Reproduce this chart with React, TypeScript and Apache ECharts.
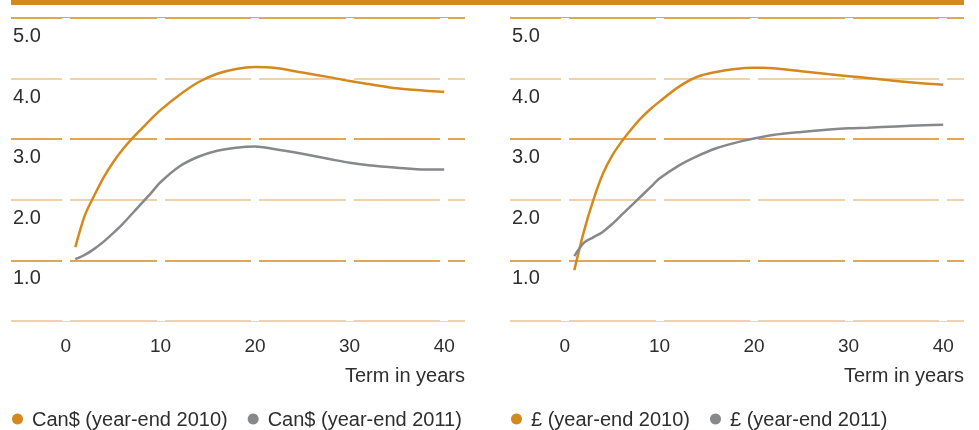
import React, { useEffect, useRef } from "react";
import * as echarts from "echarts";

const terms = [1, 2, 3, 4, 5, 6, 7, 8, 9, 10, 12, 14, 16, 18, 20, 22, 25, 28, 30, 32, 35, 38, 40];
const cad2010 = [1.22, 1.74, 2.07, 2.37, 2.62, 2.83, 3.01, 3.17, 3.33, 3.48, 3.73, 3.94, 4.08, 4.16, 4.19, 4.18, 4.10, 4.02, 3.96, 3.91, 3.84, 3.80, 3.78];
const cad2011 = [1.02, 1.09, 1.19, 1.31, 1.45, 1.60, 1.77, 1.94, 2.11, 2.29, 2.55, 2.71, 2.81, 2.86, 2.88, 2.84, 2.76, 2.67, 2.61, 2.57, 2.53, 2.50, 2.50];
const gbp2010 = [0.84, 1.47, 1.99, 2.42, 2.73, 2.96, 3.16, 3.34, 3.49, 3.62, 3.86, 4.03, 4.11, 4.16, 4.18, 4.17, 4.12, 4.07, 4.04, 4.01, 3.96, 3.92, 3.90];
const gbp2011 = [1.07, 1.29, 1.38, 1.47, 1.60, 1.75, 1.90, 2.05, 2.20, 2.35, 2.56, 2.72, 2.85, 2.94, 3.01, 3.07, 3.12, 3.16, 3.18, 3.19, 3.21, 3.23, 3.24];

const xTicks = [0, 10, 20, 30, 40];
const seriesNames = [
  "Can$ (year-end 2010)",
  "Can$ (year-end 2011)",
  "£ (year-end 2010)",
  "£ (year-end 2011)",
];
const xAxisTitle = "Term in years";

const ORANGE = "#D4891C";
const LIGHT = "#EBC28C";
const GRAY = "#87888B";
const TEXT = "#2E2E2E";
const FONT = "Liberation Sans";

const pairs = (vals: number[]) => terms.map((t, i) => [t, vals[i]]);

export default function App() {
  const ref = useRef<HTMLDivElement>(null);
  useEffect(() => {
    if (!ref.current) return;
    const chart = echarts.init(ref.current, null, { renderer: "svg" });
    const panelLefts = [11, 510];
    const panelWidth = 454;
    const grids = panelLefts.map((l) => ({ left: l, width: panelWidth, top: 18, height: 303 }));
    const xAxes = panelLefts.map((_, i) => ({
      type: "value",
      gridIndex: i,
      min: -5.8,
      max: 42.2,
      axisLine: { show: false },
      axisTick: { show: false },
      splitLine: { show: false },
      axisLabel: {
        customValues: xTicks,
        color: TEXT,
        fontSize: 19,
        fontFamily: FONT,
        margin: 15,
      },
    }));
    const yAxes = panelLefts.map((_, i) => ({
      type: "value",
      gridIndex: i,
      min: 0,
      max: 5,
      interval: 1,
      axisLine: { show: false },
      axisTick: { show: false },
      splitLine: { show: true, lineStyle: { color: [LIGHT, ORANGE], width: 1.5 } },
      axisLabel: {
        inside: true,
        showMinLabel: false,
        margin: 2,
        verticalAlign: "top",
        padding: [7, 0, 0, 0],
        color: TEXT,
        fontSize: 20,
        fontFamily: FONT,
        formatter: (v: number) => v.toFixed(1),
      },
    }));
    const gapSeries = panelLefts.map((_, i) => ({
      type: "line",
      name: "gap" + i,
      xAxisIndex: i,
      yAxisIndex: i,
      data: [],
      z: 1,
      silent: true,
      markLine: {
        z: 1,
        silent: true,
        symbol: "none",
        label: { show: false },
        lineStyle: { color: "#ffffff", width: 8, type: "solid" },
        data: xTicks.map((x) => ({ xAxis: x })),
      },
    }));
    const lineSeries = [
      { name: seriesNames[0], data: pairs(cad2010), color: ORANGE, idx: 0 },
      { name: seriesNames[1], data: pairs(cad2011), color: GRAY, idx: 0 },
      { name: seriesNames[2], data: pairs(gbp2010), color: ORANGE, idx: 1 },
      { name: seriesNames[3], data: pairs(gbp2011), color: GRAY, idx: 1 },
    ].map((s) => ({
      type: "line",
      name: s.name,
      xAxisIndex: s.idx,
      yAxisIndex: s.idx,
      data: s.data,
      showSymbol: false,
      smooth: 0.3,
      z: 10,
      itemStyle: { color: s.color },
      lineStyle: { color: s.color, width: 2.5 },
    }));
    const legends = panelLefts.map((l, i) => ({
      left: l + 1,
      top: 408,
      padding: 0,
      icon: "circle",
      itemWidth: 19,
      itemHeight: 11,
      itemGap: 20,
      data: [seriesNames[i * 2], seriesNames[i * 2 + 1]],
      textStyle: { color: TEXT, fontSize: 20, fontFamily: FONT, lineHeight: 22 },
    }));
    chart.setOption({
      animation: false,
      grid: grids,
      xAxis: xAxes,
      yAxis: yAxes,
      legend: legends,
      series: [...gapSeries, ...lineSeries],
      graphic: [
        { type: "rect", shape: { x: 11, y: 0, width: 953, height: 5 }, style: { fill: ORANGE } },
        ...panelLefts.map((l) => ({
          type: "text",
          x: l + panelWidth,
          y: 375,
          style: {
            text: xAxisTitle,
            align: "right",
            verticalAlign: "middle",
            fill: TEXT,
            fontSize: 20,
            fontFamily: FONT,
          },
        })),
      ],
    });
    return () => chart.dispose();
  }, []);
  return (
    <div
      ref={ref}
      style={{ position: "fixed", left: 0, top: 0, width: 979, height: 430 }}
    />
  );
}
